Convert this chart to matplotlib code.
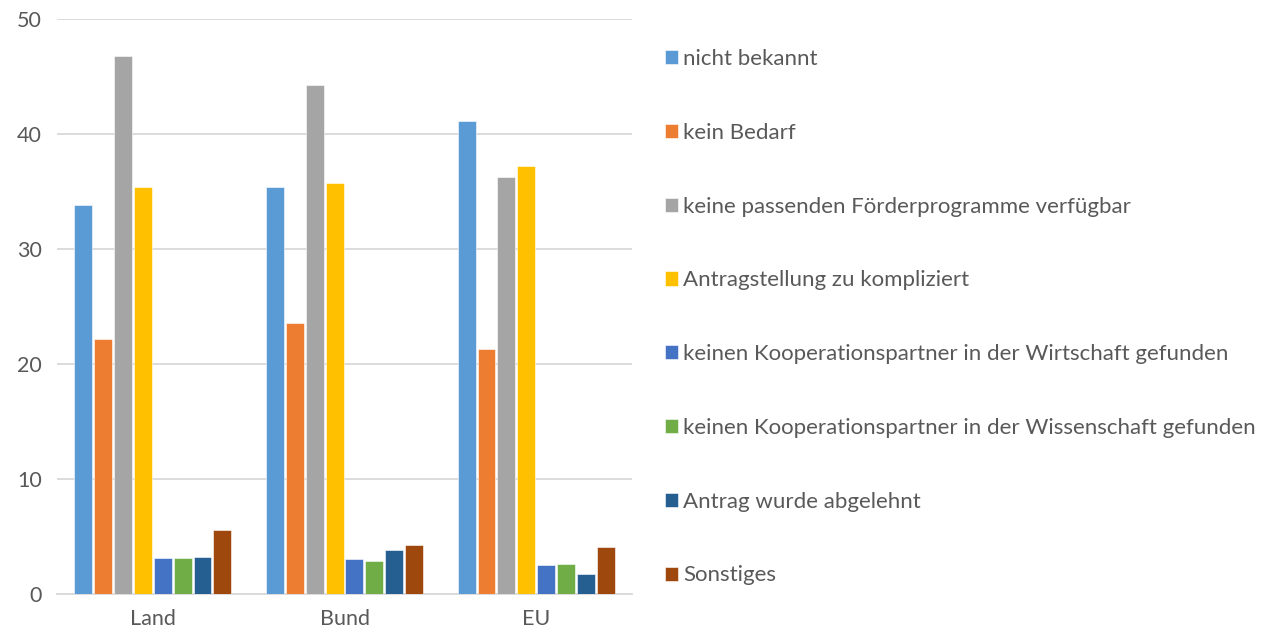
import numpy as np
from matplotlib import pyplot as plt

plt.rcParams['font.family'] = ['Lato', 'DejaVu Sans']

categories = ['Land', 'Bund', 'EU']
series_labels = [
    'nicht bekannt',
    'kein Bedarf',
    'keine passenden Förderprogramme verfügbar',
    'Antragstellung zu kompliziert',
    'keinen Kooperationspartner in der Wirtschaft gefunden',
    'keinen Kooperationspartner in der Wissenschaft gefunden',
    'Antrag wurde abgelehnt',
    'Sonstiges',
]
nicht_bekannt = [33.8, 35.4, 41.1]
kein_bedarf = [22.2, 23.6, 21.3]
keine_programme = [46.8, 44.3, 36.3]
zu_kompliziert = [35.4, 35.7, 37.2]
partner_wirtschaft = [3.1, 3.05, 2.5]
partner_wissenschaft = [3.1, 2.85, 2.6]
abgelehnt = [3.2, 3.8, 1.7]
sonstiges = [5.6, 4.25, 4.05]

series = [nicht_bekannt, kein_bedarf, keine_programme, zu_kompliziert,
          partner_wirtschaft, partner_wissenschaft, abgelehnt, sonstiges]
colors = ['#5B9BD5', '#ED7D31', '#A5A5A5', '#FFC000',
          '#4472C4', '#70AD47', '#255E91', '#9E480E']

fig = plt.figure(figsize=(12.62, 6.36), dpi=100)
ax = fig.add_axes([57 / 1262, 1 - 594 / 636, 575 / 1262, 575 / 636])

x = np.arange(len(categories))
n = len(series)
slot = 0.83 / n
for i, (vals, col, lab) in enumerate(zip(series, colors, series_labels)):
    ax.bar(x + (i - (n - 1) / 2) * slot, vals, width=slot * 0.9, color=col,
           label=lab, zorder=3, edgecolor='white', linewidth=0.4)

ax.set_xlim(-0.5, 2.5)
ax.set_ylim(0, 50)
ax.set_yticks(range(0, 51, 10))
ax.set_xticks(x)
ax.set_xticklabels(categories)
ax.grid(axis='y', color='#D9D9D9', linewidth=1.3, zorder=0)
for s in ['top', 'right', 'left']:
    ax.spines[s].set_visible(False)
ax.spines['bottom'].set_color('#D9D9D9')
ax.spines['bottom'].set_linewidth(1.3)
ax.tick_params(axis='both', length=0, labelsize=15.5, colors='#595959')
ax.tick_params(axis='y', pad=11)
ax.tick_params(axis='x', pad=11)

handles, labels = ax.get_legend_handles_labels()
leg = fig.legend(handles, labels, loc='upper left', bbox_to_anchor=(665 / 1262, 1 - 49 / 636),
                 frameon=False, fontsize=16, labelspacing=2.42, handlelength=0.6,
                 handleheight=0.6, handletextpad=0.22, borderaxespad=0, borderpad=0)
for t in leg.get_texts():
    t.set_color('#595959')

plt.savefig('out.png', dpi=100)
